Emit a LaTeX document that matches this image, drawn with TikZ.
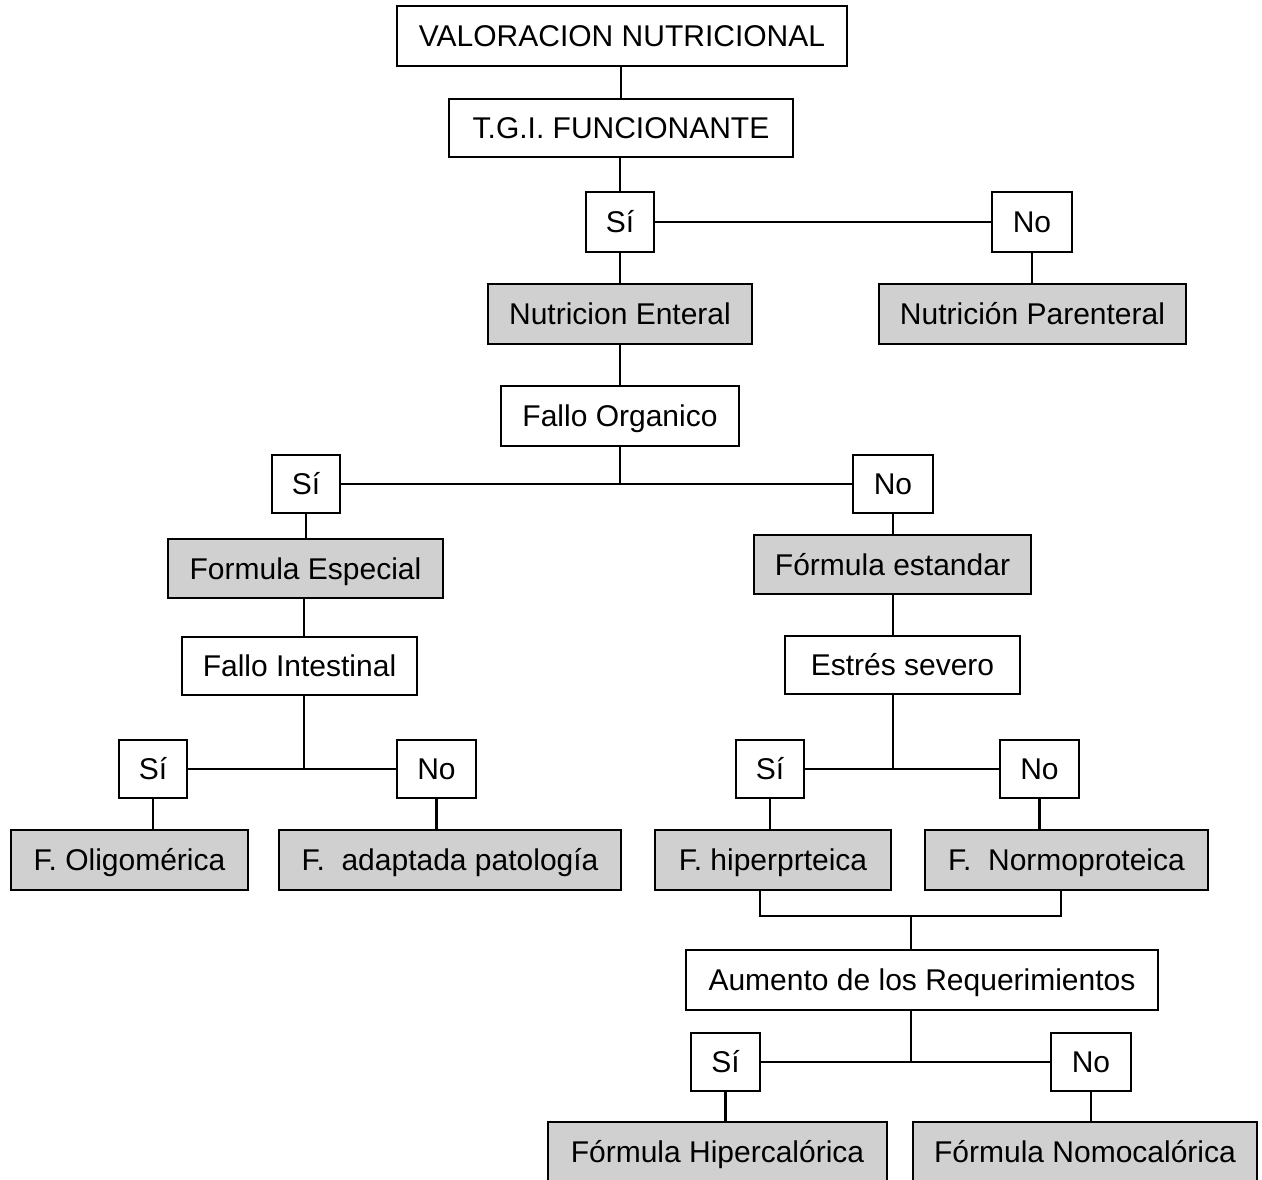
\documentclass[tikz,border=0pt]{standalone}
\usepackage{fontspec}
\setmainfont{Liberation Sans}
\definecolor{boxgray}{RGB}{208,208,208}
\begin{document}
\begin{tikzpicture}[x=1pt,y=-1pt,
  box/.style={draw=black, line width=2.6pt, fill=white, inner sep=0pt, outer sep=0pt,
    font=\fontsize{30}{36}\selectfont, text height=21.5pt, text depth=0pt},
  gbox/.style={box, fill=boxgray},
  conn/.style={draw=black, line width=2.2pt}]
\useasboundingbox (0,0) rectangle (1262,1180);
% nodes
\node[box, minimum width=450pt, minimum height=60pt] (v) at (622,36) {VALORACION NUTRICIONAL};
\node[box, minimum width=344pt, minimum height=58pt] (t) at (621,128) {T.G.I. FUNCIONANTE};
\node[box, minimum width=68pt, minimum height=60pt] (s1) at (620,222) {Sí};
\node[box, minimum width=80pt, minimum height=60pt] (n1) at (1032,222) {No};
\node[gbox, minimum width=264pt, minimum height=60pt] (ne) at (620,314) {Nutricion Enteral};
\node[gbox, minimum width=307pt, minimum height=60pt] (np) at (1032.5,314) {Nutrición Parenteral};
\node[box, minimum width=238pt, minimum height=60pt] (fo) at (620,416) {Fallo Organico};
\node[box, minimum width=68pt, minimum height=58pt] (s2) at (306,484) {Sí};
\node[box, minimum width=80pt, minimum height=58pt] (n2) at (893,484) {No};
\node[gbox, minimum width=275pt, minimum height=59pt] (fe) at (305.5,568.5) {Formula Especial};
\node[gbox, minimum width=277pt, minimum height=59pt] (fs) at (892.5,564.5) {Fórmula estandar};
\node[box, minimum width=235pt, minimum height=58pt] (fi) at (299.5,666) {Fallo Intestinal};
\node[box, minimum width=235pt, minimum height=58pt] (es) at (902.5,665) {Estrés severo};
\node[box, minimum width=68pt, minimum height=58pt] (s3) at (153,769) {Sí};
\node[box, minimum width=79pt, minimum height=58pt] (n3) at (436.5,769) {No};
\node[box, minimum width=68pt, minimum height=58pt] (s4) at (770,769) {Sí};
\node[box, minimum width=79pt, minimum height=58pt] (n4) at (1039.5,769) {No};
\node[gbox, minimum width=237pt, minimum height=60pt] (fol) at (129.5,860) {F. Oligomérica};
\node[gbox, minimum width=342pt, minimum height=60pt] (fap) at (450,860) {F.\ \ adaptada patología};
\node[gbox, minimum width=236pt, minimum height=60pt] (fhi) at (773,860) {F. hiperprteica};
\node[gbox, minimum width=283pt, minimum height=60pt] (fno) at (1066.5,860) {F.\ \ Normoproteica};
\node[box, minimum width=472pt, minimum height=60pt] (ar) at (922,980) {Aumento de los Requerimientos};
\node[box, minimum width=69pt, minimum height=58pt] (s5) at (725.5,1062) {Sí};
\node[box, minimum width=80pt, minimum height=58pt] (n5) at (1091,1062) {No};
\node[gbox, minimum width=339pt, minimum height=60pt] (fhc) at (717.5,1152) {Fórmula Hipercalórica};
\node[gbox, minimum width=344pt, minimum height=60pt] (fnc) at (1085,1152) {Fórmula Nomocalórica};
% junction coordinates
\coordinate (j1) at (620,484);
\coordinate (j2) at (304,768);
\coordinate (j3) at (893,768);
\coordinate (b1) at (760,916);
\coordinate (b2) at (1061,916);
\coordinate (b3) at (911,916);
\coordinate (j4) at (911,1062);
% connectors
\draw[conn] (v.south -| t.north) -- (t.north);
\draw[conn] (t.south -| s1.north) -- (s1.north);
\draw[conn] (s1.east) -- (n1.west);
\draw[conn] (s1.south) -- (ne.north);
\draw[conn] (n1.south) -- (n1.south |- np.north);
\draw[conn] (ne.south) -- (fo.north);
\draw[conn] (fo.south) -- (j1);
\draw[conn] (s2.east) -- (n2.west);
\draw[conn] (s2.south) -- (s2.south |- fe.north);
\draw[conn] (n2.south) -- (n2.south |- fs.north);
\draw[conn] (j2 |- fe.south) -- (j2 |- fi.north);
\draw[conn] (j2 |- fi.south) -- (j2);
\draw[conn] (s3.east) -- (n3.west);
\draw[conn] (s3.south) -- (s3.south |- fol.north);
\draw[conn] (n3.south) -- (n3.south |- fap.north);
\draw[conn] (j3 |- fs.south) -- (j3 |- es.north);
\draw[conn] (j3 |- es.south) -- (j3);
\draw[conn] (s4.east) -- (n4.west);
\draw[conn] (s4.south) -- (s4.south |- fhi.north);
\draw[conn] (n4.south) -- (n4.south |- fno.north);
\draw[conn, line cap=rect] (b1 |- fhi.south) -- (b1) -- (b2) -- (b2 |- fno.south);
\draw[conn] (b3) -- (b3 |- ar.north);
\draw[conn] (j4 |- ar.south) -- (j4);
\draw[conn] (s5.east) -- (n5.west);
\draw[conn] (s5.south) -- (s5.south |- fhc.north);
\draw[conn] (n5.south) -- (n5.south |- fnc.north);
\end{tikzpicture}
\end{document}
